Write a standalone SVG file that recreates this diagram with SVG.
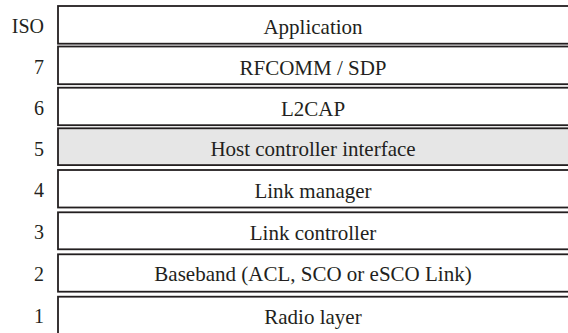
<svg xmlns="http://www.w3.org/2000/svg" width="568" height="333" viewBox="0 0 568 333">
<style>
.box{fill:#fff;stroke:#231f20;stroke-width:1.8}
.hl{fill:#e6e6e6}
text{font-family:'Liberation Serif','DejaVu Serif',serif;fill:#231f20}
.t{font-size:21px;text-anchor:middle}
.n{font-size:20px;text-anchor:end}
</style>
<rect width="568" height="333" fill="#fff"/>
<g id="layer-iso"><rect class="box" x="58" y="6" width="520" height="37.7"/><text class="n" x="44" y="33" font-family="Liberation Serif, serif">ISO</text><text class="t" x="313" y="34" font-family="Liberation Serif, serif">Application</text></g>
<g id="layer-7"><rect class="box" x="58" y="46.5" width="520" height="37.7"/><text class="n" x="44" y="74" font-family="Liberation Serif, serif">7</text><text class="t" x="313" y="74.5" font-family="Liberation Serif, serif">RFCOMM / SDP</text></g>
<g id="layer-6"><rect class="box" x="58" y="87.7" width="520" height="37.5"/><text class="n" x="44" y="115" font-family="Liberation Serif, serif">6</text><text class="t" x="313" y="115.5" font-family="Liberation Serif, serif">L2CAP</text></g>
<g id="layer-5"><rect class="box hl" x="58" y="128.3" width="520" height="36.8"/><text class="n" x="44" y="155.5" font-family="Liberation Serif, serif">5</text><text class="t" x="313" y="156" font-family="Liberation Serif, serif">Host controller interface</text></g>
<g id="layer-4"><rect class="box" x="58" y="170" width="520" height="37.5"/><text class="n" x="44" y="197" font-family="Liberation Serif, serif">4</text><text class="t" x="313" y="197.5" font-family="Liberation Serif, serif">Link manager</text></g>
<g id="layer-3"><rect class="box" x="58" y="212.3" width="520" height="37"/><text class="n" x="44" y="239" font-family="Liberation Serif, serif">3</text><text class="t" x="313" y="239.5" font-family="Liberation Serif, serif">Link controller</text></g>
<g id="layer-2"><rect class="box" x="58" y="254.3" width="520" height="37.4"/><text class="n" x="44" y="280.5" font-family="Liberation Serif, serif">2</text><text class="t" x="313" y="281" font-family="Liberation Serif, serif">Baseband (ACL, SCO or eSCO Link)</text></g>
<g id="layer-1"><rect class="box" x="58" y="296.7" width="520" height="50"/><text class="n" x="44" y="323" font-family="Liberation Serif, serif">1</text><text class="t" x="313" y="323.5" font-family="Liberation Serif, serif">Radio layer</text></g>
<g id="connectors"/>
</svg>
